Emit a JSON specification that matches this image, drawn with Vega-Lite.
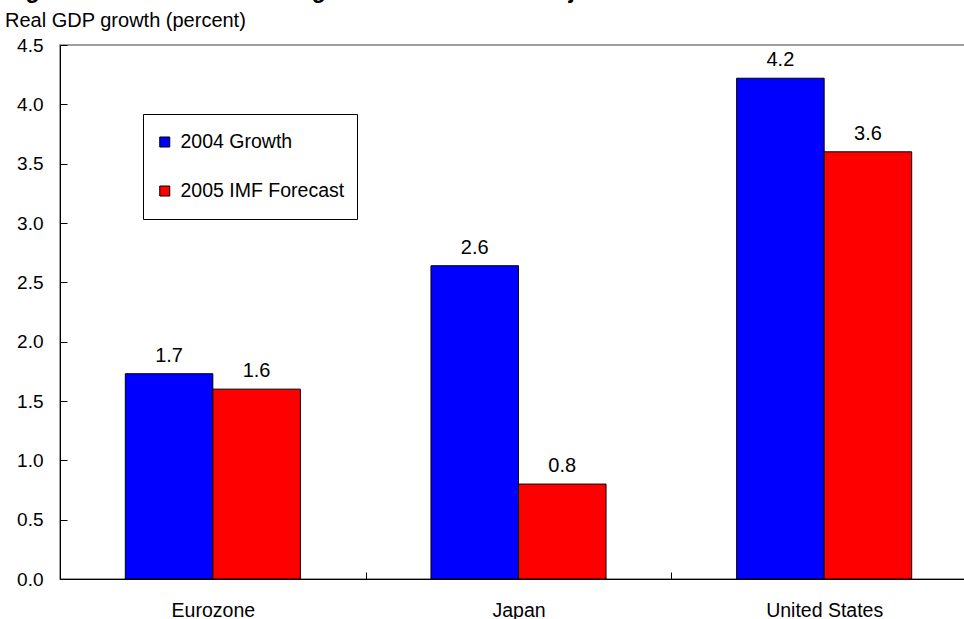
{
  "$schema": "https://vega.github.io/schema/vega-lite/v6.json",
  "width": 917,
  "height": 534,
  "autosize": {"type": "none"},
  "padding": {"left": 60, "top": 45, "right": 0, "bottom": 40},
  "background": "white",
  "title": {
    "text": "Figure 1: The U.S. is Growing Faster Than Other Major Industrial Economies",
    "subtitle": "Real GDP growth (percent)",
    "anchor": "start",
    "frame": "group",
    "dx": -55,
    "offset": 5,
    "font": "Liberation Sans",
    "fontSize": 23,
    "fontWeight": "bold",
    "color": "black",
    "subtitleFont": "Liberation Sans",
    "subtitleFontSize": 20,
    "subtitleColor": "black",
    "subtitlePadding": 8
  },
  "data": {
    "values": [
      {"region": "Eurozone", "series": "2004 Growth", "growth": 1.73},
      {"region": "Eurozone", "series": "2005 IMF Forecast", "growth": 1.6},
      {"region": "Japan", "series": "2004 Growth", "growth": 2.64},
      {"region": "Japan", "series": "2005 IMF Forecast", "growth": 0.8},
      {"region": "United States", "series": "2004 Growth", "growth": 4.22},
      {"region": "United States", "series": "2005 IMF Forecast", "growth": 3.6}
    ]
  },
  "encoding": {
    "x": {
      "field": "region",
      "type": "nominal",
      "sort": ["Eurozone", "Japan", "United States"],
      "scale": {"paddingInner": 0, "paddingOuter": 0},
      "axis": {
        "title": null,
        "labelAngle": 0,
        "tickBand": "extent",
        "tickSize": -7,
        "tickColor": "black",
        "domainColor": "black",
        "labelFont": "Liberation Sans",
        "labelFontSize": 19.5,
        "labelColor": "black",
        "labelPadding": 29
      }
    },
    "xOffset": {
      "field": "series",
      "type": "nominal",
      "scale": {"paddingInner": 0, "paddingOuter": 0.746}
    },
    "y": {
      "field": "growth",
      "type": "quantitative",
      "scale": {"domain": [0, 4.5], "nice": false},
      "axis": {
        "title": null,
        "values": [0, 0.5, 1, 1.5, 2, 2.5, 3, 3.5, 4, 4.5],
        "format": ".1f",
        "grid": false,
        "tickSize": -7,
        "tickColor": "black",
        "domainColor": "black",
        "labelFont": "Liberation Sans",
        "labelFontSize": 19,
        "labelColor": "black",
        "labelPadding": 24
      }
    }
  },
  "layer": [
    {
      "mark": {"type": "bar", "stroke": "black", "strokeWidth": 1},
      "encoding": {
        "color": {
          "field": "series",
          "type": "nominal",
          "scale": {
            "domain": ["2004 Growth", "2005 IMF Forecast"],
            "range": ["#0000FF", "#FF0000"]
          },
          "legend": {
            "orient": "none",
            "legendX": 83,
            "legendY": 69,
            "title": null,
            "direction": "vertical",
            "fillColor": "white",
            "strokeColor": "black",
            "padding": 12,
            "symbolType": "square",
            "symbolSize": 100,
            "symbolStrokeColor": "black",
            "symbolStrokeWidth": 1,
            "symbolOpacity": 1,
            "labelFont": "Liberation Sans",
            "labelFontSize": 19.5,
            "labelColor": "black",
            "labelOffset": 6,
            "labelLimit": 300,
            "rowPadding": 17,
            "clipHeight": 32
          }
        }
      }
    },
    {
      "mark": {
        "type": "text",
        "baseline": "alphabetic",
        "dy": -12,
        "font": "Liberation Sans",
        "fontSize": 20,
        "color": "black"
      },
      "encoding": {
        "text": {"field": "growth", "type": "quantitative", "format": ".1f"}
      }
    }
  ],
  "config": {
    "view": {"stroke": "#7f7f7f", "strokeWidth": 1.5}
  }
}
